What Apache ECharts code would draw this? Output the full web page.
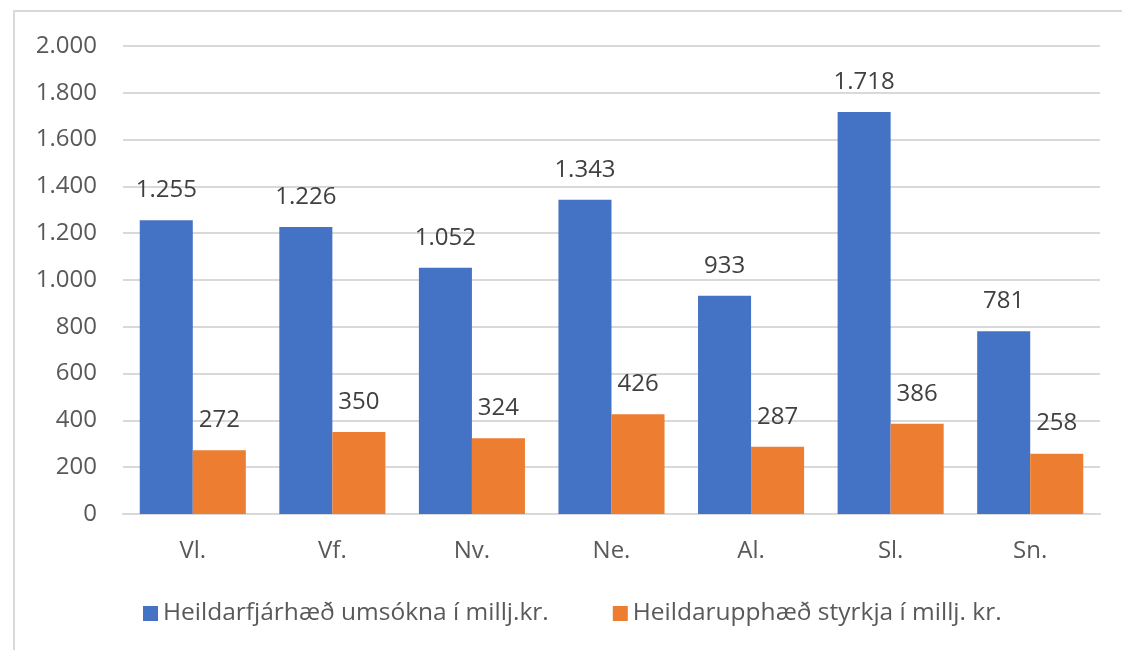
<!DOCTYPE html>
<html>
<head>
<meta charset="utf-8">
<script src="https://cdn.jsdelivr.net/npm/echarts@6/dist/echarts.min.js"></script>
<style>
  html, body { margin: 0; padding: 0; background: #fff; overflow: hidden; }
  #frame { position: absolute; left: 13px; top: 10px; width: 1200px; height: 700px; border: 2px solid #d9d9d9; box-sizing: border-box; }
  #chart { position: absolute; left: 0; top: 0; width: 1122px; height: 650px; }
</style>
</head>
<body>
<div id="frame"></div>
<div id="chart"></div>
<script>
(function() {
  'use strict';

  var regions = ['Vl.', 'Vf.', 'Nv.', 'Ne.', 'Al.', 'Sl.', 'Sn.'];
  var applied = [1255, 1226, 1052, 1343, 933, 1718, 781];
  var granted = [272, 350, 324, 426, 287, 386, 258];
  var seriesNames = ['Heildarfjárhæð umsókna í millj.kr.', 'Heildarupphæð styrkja í millj. kr.'];

  var colorBlue = '#4472c4';
  var colorOrange = '#ed7d31';
  var colorText = '#595959';
  var colorLabel = '#404040';
  var colorGrid = '#d9d9d9';
  var font = '"Open Sans", "Noto Sans", sans-serif';

  function fmt(v) {
    return String(v).replace(/\B(?=(\d{3})+(?!\d))/g, '.');
  }

  var chart = echarts.init(document.getElementById('chart'));
  chart.setOption({
    animation: false,
    textStyle: { fontFamily: font },
    grid: { left: 123, right: 22, top: 46, bottom: 136, containLabel: false },
    legend: {
      data: seriesNames,
      bottom: 19,
      left: 138,
      itemWidth: 15,
      itemHeight: 15,
      itemGap: 64,
      icon: 'rect',
      textStyle: { color: colorText, fontSize: 24.5, fontFamily: font }
    },
    xAxis: {
      type: 'category',
      data: regions,
      axisLine: { lineStyle: { color: colorGrid, width: 2 } },
      axisTick: { show: false },
      axisLabel: { color: colorText, fontSize: 24, margin: 25 }
    },
    yAxis: {
      type: 'value',
      min: 0,
      max: 2000,
      interval: 200,
      axisLine: { show: false },
      axisTick: { show: false },
      splitLine: { lineStyle: { color: colorGrid, width: 2 } },
      axisLabel: { color: colorText, fontSize: 24, margin: 26, formatter: fmt }
    },
    series: [
      {
        name: seriesNames[0],
        type: 'bar',
        data: applied,
        barGap: '0%',
        barCategoryGap: '24%',
        itemStyle: { color: colorBlue },
        label: { show: true, position: 'top', distance: 18, color: colorLabel, fontSize: 24, formatter: function(p) { return fmt(p.value); } }
      },
      {
        name: seriesNames[1],
        type: 'bar',
        data: granted,
        itemStyle: { color: colorOrange },
        label: { show: true, position: 'top', distance: 18, color: colorLabel, fontSize: 24, formatter: function(p) { return fmt(p.value); } }
      }
    ]
  });
})();
</script>
</body>
</html>
